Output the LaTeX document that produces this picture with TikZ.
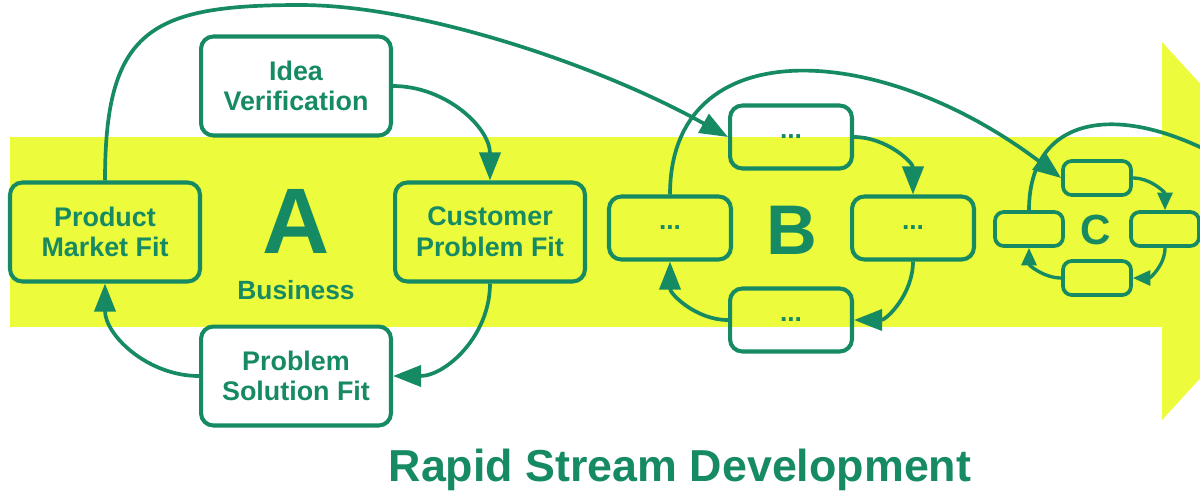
\documentclass[tikz,border=0pt]{standalone}
\usepackage{fontspec}
\setmainfont{Liberation Sans}
\usetikzlibrary{arrows.meta}
\definecolor{rsgreen}{RGB}{22,138,98}
\definecolor{rsyellow}{RGB}{236,251,60}
\begin{document}
\begin{tikzpicture}[x=0.02cm,y=-0.02cm,
    box/.style={draw=rsgreen,line width=2.3pt,rounded corners=7pt,text=rsgreen,
        font=\fontsize{15.3}{17.5}\selectfont\bfseries,align=center,inner sep=0pt},
    abox/.style={box,minimum width=3.8cm,minimum height=1.98cm},
    bbox/.style={box,minimum width=2.44cm,minimum height=1.26cm,font=\fontsize{15}{17}\selectfont\bfseries},
    cbox/.style={box,line width=2.1pt,rounded corners=5pt,minimum width=1.36cm,minimum height=0.68cm},
    flow/.style={draw=rsgreen,line width=2.1pt,-{Triangle[length=16pt,width=12pt]}},
    cflow/.style={draw=rsgreen,line width=1.9pt,-{Triangle[length=10pt,width=8.5pt]}},
    letter/.style={text=rsgreen,inner sep=0pt}]
    \useasboundingbox (0,0) rectangle (1200,495);
    \clip (0,0) rectangle (1200,495);
    \fill[rsyellow] (10,137) rectangle (1163,327);
    \fill[rsyellow] (1162,42) -- (1335,231) -- (1162,420) -- cycle;

    \node[abox] (iv) at (296,86) {Idea\\Verification};
    \node[abox] (pmf) at (105,232) {Product\\Market Fit};
    \node[abox] (cpf) at (490,232) {Customer\\Problem Fit};
    \node[abox] (psf) at (296,376) {Problem\\Solution Fit};
    \node[letter,font=\fontsize{53}{53}\selectfont\bfseries] (la) at (296,221) {A};
    \node[letter,font=\fontsize{15}{17}\selectfont\bfseries] (business) at (296,290) {Business};

    \node[bbox] (btop) at (791,137) {...};
    \node[bbox] (bleft) at (670,228) {...};
    \node[bbox] (bright) at (913,228) {...};
    \node[bbox] (bbottom) at (791,320) {...};
    \node[letter,font=\fontsize{40}{40}\selectfont\bfseries] (lb) at (792,230) {B};

    \node[cbox] (ctop) at (1097,178) {};
    \node[cbox] (cleft) at (1029,229) {};
    \node[cbox] (cright) at (1165,229) {};
    \node[cbox] (cbottom) at (1097,278) {};
    \node[letter,font=\fontsize{24}{24}\selectfont\bfseries] (lc) at (1096,230) {C};

    \node[letter,font=\fontsize{25.5}{28}\selectfont\bfseries,anchor=base] (title) at (680,481) {Rapid Stream Development};

    \draw[flow] (iv.east) to[out=0,in=90] (cpf.north);
    \draw[flow] (cpf.south) to[out=-90,in=0] (psf.east);
    \draw[flow] (psf.west) to[out=180,in=-90] (pmf.south);

    \draw[flow] (btop.east) to[out=0,in=90] (bright.north);
    \draw[flow] (bright.south) to[out=-90,in=0] (bbottom.east);
    \draw[flow] (bbottom.west) to[out=180,in=-90] (bleft.south);

    \draw[cflow] (ctop.east) to[out=0,in=90] (cright.north);
    \draw[cflow] (cright.south) to[out=-90,in=0] (cbottom.east);
    \draw[cflow] (cbottom.west) to[out=180,in=-90] (cleft.south);

    \coordinate (arctop) at (300,5);
    \draw[flow] (pmf.north) .. controls (105,30) and (150,5) .. (arctop)
        .. controls (420,5) and (599,65) .. (btop.west);
    \draw[flow] (bleft.north) .. controls (670,30) and (879,40) .. (ctop.west);
    \coordinate (cout) at (1285,200);
    \draw[draw=rsgreen,line width=2.1pt] (cleft.north) .. controls (1029,100) and (1150,95) .. (cout);
\end{tikzpicture}
\end{document}
